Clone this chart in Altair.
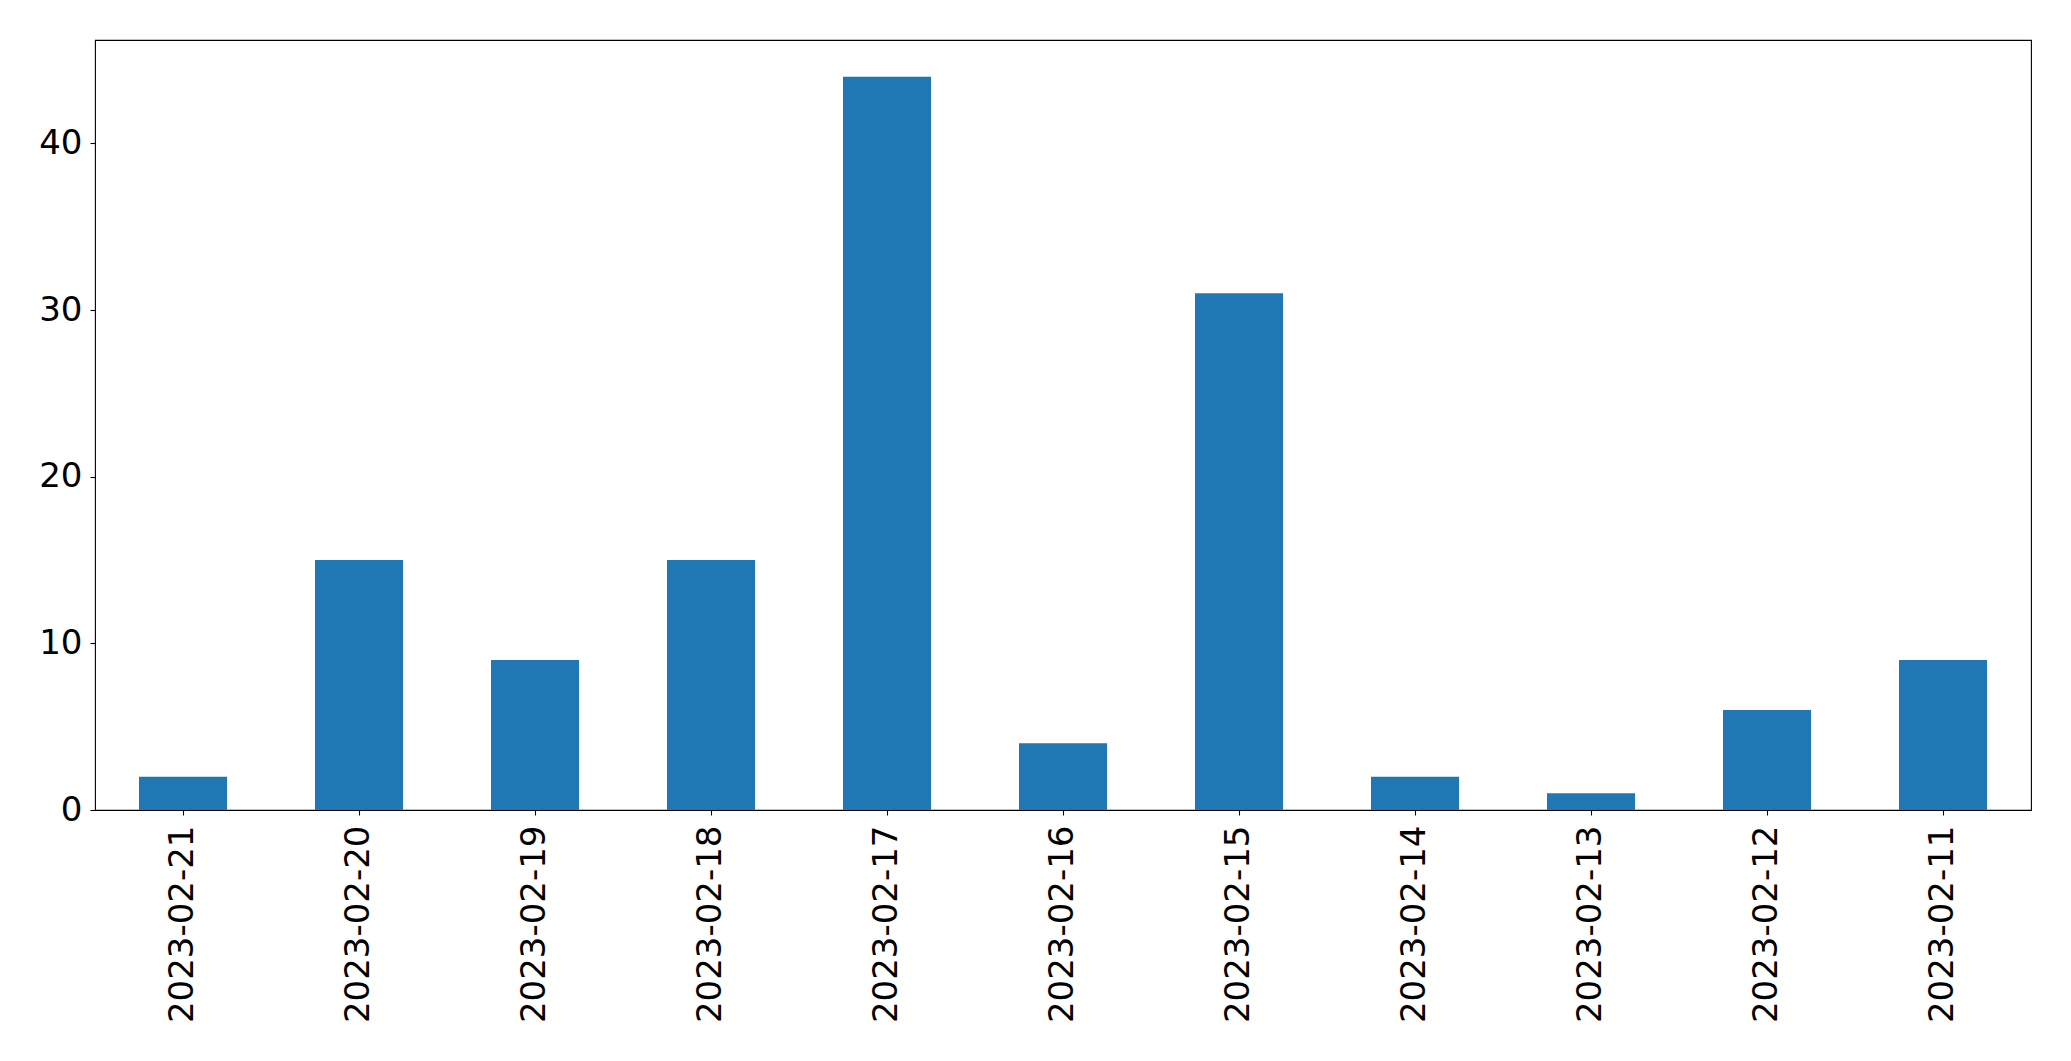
import altair as alt
import pandas as pd

dates = ["2023-02-21", "2023-02-20", "2023-02-19", "2023-02-18", "2023-02-17",
         "2023-02-16", "2023-02-15", "2023-02-14", "2023-02-13", "2023-02-12",
         "2023-02-11"]
counts = [2, 15, 9, 15, 44, 4, 31, 2, 1, 6, 9]

df = pd.DataFrame({"date": dates, "count": counts})

chart = alt.Chart(df).mark_bar(color="#1f77b4").encode(
    x=alt.X("date:N", sort=dates, title=None,
            scale=alt.Scale(paddingInner=0.5, paddingOuter=0.25),
            axis=alt.Axis(labelAngle=270, labelAlign="right", labelBaseline="middle",
                          labelFontSize=34, labelFont="DejaVu Sans", labelColor="black",
                          labelLimit=400,
                          tickColor="black", tickSize=5, tickWidth=1.1, labelPadding=10,
                          domain=False)),
    y=alt.Y("count:Q", title=None,
            scale=alt.Scale(domain=[0, 46.2], nice=False, zero=True),
            axis=alt.Axis(values=[0, 10, 20, 30, 40], labelFontSize=34,
                          labelFont="DejaVu Sans", labelColor="black",
                          tickColor="black", tickSize=5, tickWidth=1.1, labelPadding=8,
                          grid=False, domain=False)),
).properties(
    width=1936, height=770,
    autosize=alt.AutoSizeParams(type="none"),
    padding={"left": 87, "top": 32, "right": 20, "bottom": 230},
).configure_view(stroke="black", strokeWidth=1.1)

chart.save("out.html", embed_options={"renderer": "svg", "actions": False})
